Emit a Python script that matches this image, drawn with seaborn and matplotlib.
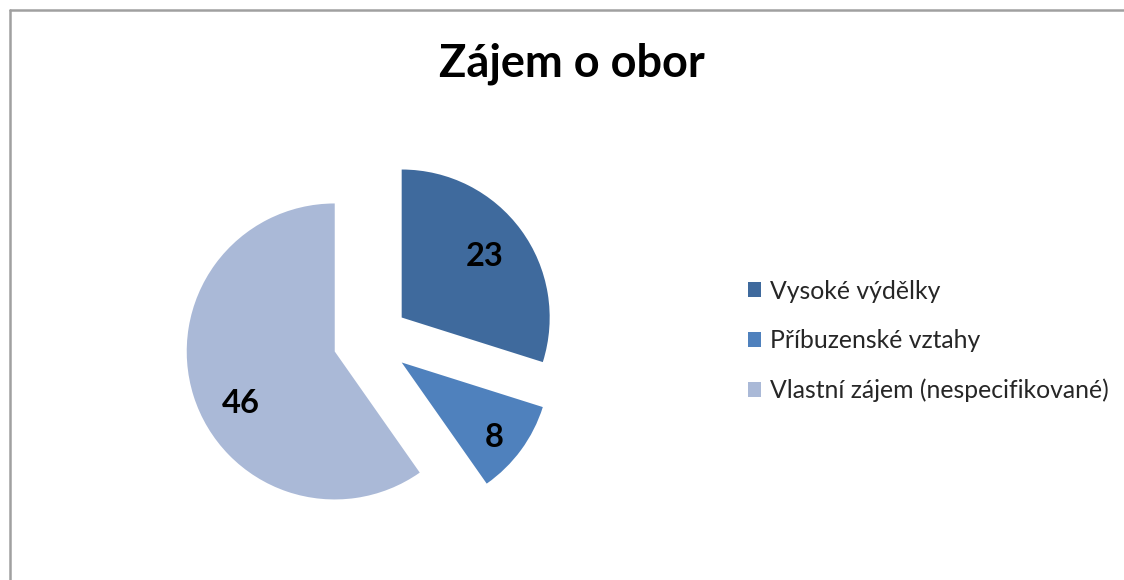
import matplotlib
matplotlib.use("Agg")
import matplotlib.pyplot as plt
from matplotlib.lines import Line2D
import seaborn as sns

# ─── Data ─────────────────────────────────────────────────────────────────────
categories = ["Vysoké výdělky", "Příbuzenské vztahy", "Vlastní zájem (nespecifikované)"]
counts = [23, 8, 46]
colors = ["#3F6A9D", "#4F81BD", "#AAB9D7"]
title = "Zájem o obor"

# ─── Style ────────────────────────────────────────────────────────────────────
sns.set_theme(style="white")
plt.rcParams["font.family"] = ["Lato", "DejaVu Sans"]

W, H = 1124, 580
fig = plt.figure(figsize=(W / 100, H / 100), dpi=100)
fig.patch.set_facecolor("white")

# pie axes: 1 unit of radius = 148 px, original pie centre at (371, 340) px
unit = 148
half = 1.5 * unit
cx, cy = 371, 340
ax = fig.add_axes([(cx - half) / W, (H - cy - half) / H, 2 * half / W, 2 * half / H])
wedges, texts, autotexts = ax.pie(
    counts, colors=colors, startangle=90, counterclock=False,
    explode=[0.257] * len(counts), radius=1.0,
    autopct=lambda p: f"{round(p * sum(counts) / 100):d}",
    pctdistance=0.73, wedgeprops=dict(linewidth=0),
    textprops=dict(fontsize=23.5, fontweight="bold", color="black"),
)
# nudge data labels to where Excel put them (px -> data units)
nudges_px = [(-4, -3), (5, -11), (9, -19)]
for t, (dx, dy) in zip(autotexts, nudges_px):
    x, y = t.get_position()
    t.set_position((x + dx / unit, y + dy / unit))

ax.set_xlim(-1.5, 1.5)
ax.set_ylim(-1.5, 1.5)
ax.set_aspect("equal")
ax.axis("off")

fig.text(572 / W, 1 - 64 / H, title, ha="center", va="center",
         fontsize=32.5, fontweight="bold", color="black")

fig.legend(wedges, categories, loc="center left",
           bbox_to_anchor=(748 / W, 1 - 341 / H), bbox_transform=fig.transFigure,
           frameon=False, fontsize=17.8, handlelength=0.54, handleheight=0.54,
           handletextpad=0.37, labelspacing=1.08, borderpad=0, borderaxespad=0)

# chart frame (top and left edges visible)
fig.add_artist(Line2D([9.5 / W, 9.5 / W], [0, 1 - 10 / H], color="#A0A0A0", lw=1.8,
                      transform=fig.transFigure))
fig.add_artist(Line2D([9.5 / W, 1], [1 - 10 / H, 1 - 10 / H], color="#A0A0A0", lw=1.8,
                      transform=fig.transFigure))

fig.savefig("out.png", dpi=100, facecolor="white")
